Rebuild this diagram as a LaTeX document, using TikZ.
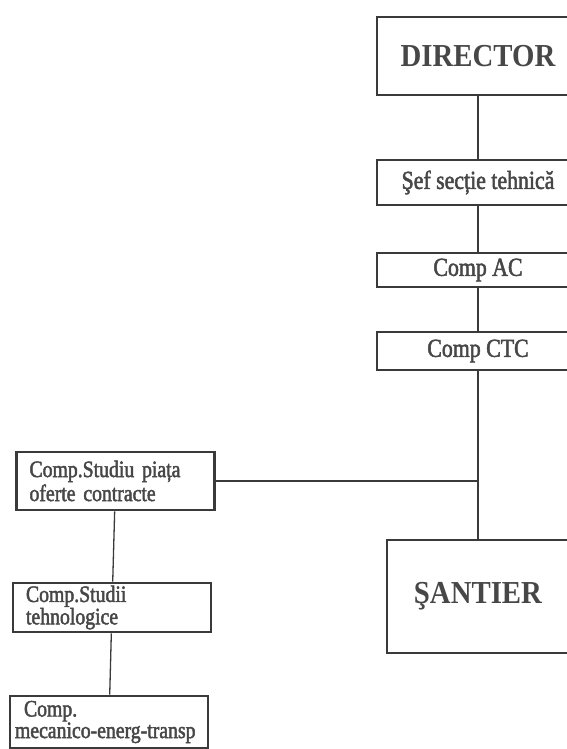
\documentclass[tikz,border=0pt]{standalone}
\usepackage{fontspec}
\setmainfont{Liberation Serif}
\newfontfamily\boxfont[FakeStretch=0.84,FakeBold=2]{Liberation Serif}
\newfontfamily\bigfont[FakeStretch=0.9]{Liberation Serif}
\usetikzlibrary{positioning}
\definecolor{ink}{HTML}{3A3A3A}
\definecolor{inktext}{HTML}{474747}

\begin{document}
\begin{tikzpicture}[x=1pt,y=-1pt,
  box/.style={draw=ink, line width=2.6pt, align=center, text=inktext,
              inner sep=0pt, font=\boxfont\fontsize{26}{28}\selectfont},
  big/.style={box, font=\bigfont\fontsize{32}{34}\selectfont\bfseries},
  lbox/.style={draw=ink, line width=2.6pt, align=left, text=inktext,
               text width=188pt, inner xsep=5pt, inner ysep=0pt},
  ln/.style={draw=ink, line width=1.3pt}]
\useasboundingbox (0,0) rectangle (567,749);
\node[big, minimum width=202pt, minimum height=78pt] (dir) at (478,56) {DIRECTOR};
\node[box, minimum width=202pt, minimum height=45pt] (sef) at (478,182.5) {Şef secție tehnică};
\node[box, minimum width=202pt, minimum height=34pt] (ac)  at (478,270) {Comp AC};
\node[box, minimum width=202pt, minimum height=38pt] (ctc) at (478,351) {Comp CTC};
\node[big, minimum width=182pt, minimum height=113pt] (san) at (478,596.5) {ŞANTIER};
\node[lbox, minimum height=58pt, font=\boxfont\fontsize{23.5}{24}\selectfont] (stu) at (115.5,481)
  {\hspace*{8pt}Comp.Studiu piața\\\hspace*{8pt}oferte contracte};
\node[lbox, minimum height=49pt, font=\boxfont\fontsize{23.5}{16}\selectfont] (teh) at (112,607.5)
  {\hspace*{8pt}Comp.Studii\\\hspace*{8pt}tehnologice};
\node[lbox, minimum height=52pt, font=\boxfont\fontsize{23.5}{17}\selectfont] (mec) at (109,722)
  {\hspace*{9pt}Comp.\\\mbox{mecanico-energ-transp}};
\draw[ln] (dir) -- (sef);
\draw[ln] (sef) -- (ac);
\draw[ln] (ac) -- (ctc);
\draw[ln] (ctc) -- (san);
\draw[ln] (stu) -- (stu -| ctc);
\draw[ln] (stu) -- (teh);
\draw[ln] (teh) -- (mec);
\end{tikzpicture}
\end{document}
